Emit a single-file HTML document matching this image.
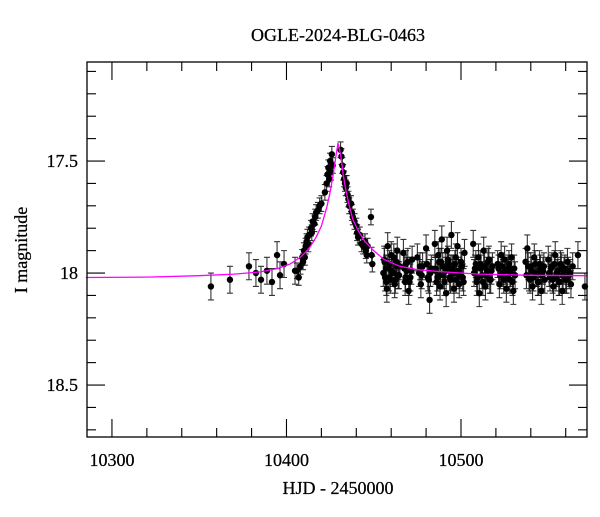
<!DOCTYPE html>
<html><head><meta charset="utf-8"><style>
body{margin:0;background:#fff}
svg text{font-family:"Liberation Serif",serif;fill:#000;stroke:#000;stroke-width:0.25}
</style></head><body>
<svg id="chart" width="600" height="512" viewBox="0 0 600 512" xmlns="http://www.w3.org/2000/svg">
<rect width="600" height="512" fill="#fff"/>
<text x="338" y="41" font-size="18" text-anchor="middle">OGLE-2024-BLG-0463</text>
<text x="338" y="494" font-size="18" text-anchor="middle">HJD - 2450000</text>
<text transform="translate(27,250) rotate(-90)" font-size="18" text-anchor="middle">I magnitude</text>
<g id="ticks"></g>
<g id="errs"></g>
<g id="pts"></g>
<path id="model" fill="none" stroke="#ff00ff" stroke-width="1.3"/>
<rect x="87" y="62" width="500" height="375" fill="none" stroke="#000" stroke-width="1.3"/>
</svg>
<script>
const xTicks=[10300,10400,10500];
const yTicks=[17.5,18,18.5];
const modelT=[10285,10320,10350,10370,10385,10395,10402,10408,10413,10417,10420,10423,10425,10427,10428.5,10429.5,10431,10432.5,10434,10436,10438,10441,10445,10450,10456,10465,10475,10490,10510,10540,10572];
const modelM=[18.02,18.018,18.012,18.005,17.995,17.98,17.96,17.93,17.89,17.84,17.79,17.71,17.64,17.55,17.47,17.42,17.47,17.56,17.63,17.70,17.76,17.81,17.86,17.90,17.94,17.97,17.985,17.995,18.005,18.01,18.012];
const obsT=[10356.7,10367.6,10378.5,10382.5,10385.4,10388.8,10391.7,10394.6,10396.3,10398.6,10404.9,
10406,10407,10408,10409,10409.5,10410,10410.5,10411,10411.5,10412,10412.5,10413,10414,10414.5,10415,10416,10416.5,10417,10418,10419,10420,10422,10423,10423.5,10424,10424.5,10425,10425.5,10426,10426.5,
10431,10431.5,10432,10432.5,10433,10433.5,10434,10434.5,10435,10435.5,10436,10437,10437.5,10438,10439,10440,10440.5,10441,10442,10443,10444,10445,10445.5,10446,10446.5,10448.4,10448.8,10449.2,
10456,10456.5,10457,10457.5,10458,10459,10459.5,10460,10461,10462,10463,10463.5,10464,10465,
10467,10468,10468.5,10469,10470,10471,10472,10475,10476,10477,10478,10480,10481,10482,10483,
10485,10485.5,10486,10487,10488,10488.5,10489,10490,10491,10491.5,10492,10493,10494,10494.5,10495,10496,10497,10497.5,10498,10499,10500,10501,10502,
10507,10508,10509,10510,10510.5,10511,10512,10513,10514,10515,10516,10517,10518,
10521,10522,10523,10524,10525,10526,10527,10528,10529,10530,10531,
10537,10538,10539,10540,10541,10542,10543,10544,10545,10546,10547,10548,
10550,10551,10552,10553,10554,10555,10556,10557,10558,10559,10560,10561,10562,10563,10564,10567,10571,
10455.5,10456.2,10457.2,10458.3,10458.8,10460.4,10461.5,10462.4,10463.2,10464.5,10467.5,10468.2,10469.5,10470.5,10471.5,10476.5,10477.5,10480.5,10481.5,10482.5,
10485.2,10486.5,10487.5,10488.2,10489.5,10490.5,10491.2,10492.5,10493.5,10494.2,10495.5,10496.5,10497.2,10498.5,10499.5,10500.5,10501.5,
10507.5,10508.5,10509.5,10511.5,10512.5,10513.5,10514.5,10515.5,10516.5,10517.5,
10521.5,10522.5,10523.5,10524.5,10525.5,10526.5,10527.5,10528.5,10529.5,10530.5,
10537.5,10538.5,10539.5,10540.5,10541.5,10542.5,10543.5,10544.5,10545.5,10546.5,10547.5,
10550.5,10551.5,10552.5,10553.5,10554.5,10555.5,10556.5,10557.5,10558.5,10559.5,10560.5,10561.5,10562.5];
const obsM=[18.06,18.03,17.97,18.00,18.03,17.99,18.04,17.92,18.01,17.96,17.99,
17.99,18.02,17.97,17.93,17.95,17.90,17.93,17.88,17.86,17.84,17.87,17.83,17.80,17.82,17.77,17.78,17.75,17.73,17.72,17.70,17.69,17.64,17.60,17.56,17.53,17.58,17.50,17.55,17.47,17.52,
17.45,17.48,17.52,17.55,17.58,17.60,17.62,17.60,17.65,17.67,17.70,17.69,17.73,17.75,17.77,17.79,17.82,17.84,17.83,17.87,17.88,17.86,17.90,17.92,17.88,17.75,17.92,17.96,
17.94,18.02,17.98,18.07,17.88,17.96,18.03,17.92,18.00,18.05,17.95,17.90,18.01,17.97,
17.91,18.04,17.96,17.99,18.08,18.02,17.94,17.93,18.00,18.05,17.97,17.89,18.02,18.12,17.98,
17.87,17.99,18.04,17.92,18.06,17.95,17.85,18.01,17.97,18.09,17.90,17.96,18.03,17.83,17.98,18.07,17.93,18.00,17.88,18.05,17.95,18.02,17.91,
17.87,17.98,18.04,17.93,18.09,17.96,18.01,17.90,18.06,17.99,17.94,18.03,17.97,
17.96,18.05,17.92,18.00,17.94,18.07,17.98,18.03,17.93,18.08,18.01,
17.95,17.89,18.02,17.97,18.06,17.93,18.00,18.04,17.96,18.08,17.99,18.03,
17.94,18.02,17.97,18.06,17.92,18.00,18.04,17.96,18.08,17.99,18.03,17.95,18.01,18.05,17.97,17.92,18.06,
18.00,17.95,18.04,17.98,18.02,17.99,17.93,18.03,17.97,18.01,17.98,18.02,17.95,18.04,17.99,17.97,18.01,17.96,18.03,18.00,
17.98,18.02,17.95,18.01,17.97,18.04,17.99,17.94,18.02,17.98,18.00,17.96,18.03,17.99,18.01,17.97,18.04,
18.00,17.96,18.02,17.98,18.04,17.97,18.01,17.95,18.03,17.99,
17.98,18.01,17.97,18.03,17.99,18.02,17.96,18.00,18.04,17.98,
18.01,17.97,18.03,17.99,18.02,17.96,18.00,18.04,17.98,18.01,17.97,
18.00,17.98,18.03,17.96,18.02,17.99,18.04,17.97,18.01,17.98,18.03,17.99,18.00];
const obsE=obsT.map((t,i)=>t<10405?0.06:(t<10452?0.035:0.06));

const X0=87,X1=587,Y0=62,Y1=437,T0=10285.7,T1=10572.2,M0=17.058,M1=18.732;
const xs=t=>X0+(t-T0)/(T1-T0)*(X1-X0);
const ys=m=>Y0+(m-M0)/(M1-M0)*(Y1-Y0);
const NS='http://www.w3.org/2000/svg';
function mk(tag,attrs,parent){const e=document.createElementNS(NS,tag);for(const k in attrs)e.setAttribute(k,attrs[k]);parent.appendChild(e);return e;}
const tg=document.getElementById('ticks');
for(let t=10300;t<=10572;t+=20){
  const major=xTicks.includes(t),L=major?18:9,x=xs(t);
  let l=mk('line',{x1:x,x2:x,y1:Y1,y2:Y1-L,stroke:'#000','stroke-width':1.1},tg);
  
  
  l=mk('line',{x1:x,x2:x,y1:Y0,y2:Y0+L,stroke:'#000','stroke-width':1.1},tg);
  
  
}
xTicks.forEach(t=>{const e=mk('text',{x:xs(t),y:466,'font-size':18,'text-anchor':'middle'},tg);e.textContent=t;
  
  });
for(let k=171;k<=187;k++){
  const m=k/10,major=yTicks.some(v=>Math.abs(v-m)<1e-6),L=major?18:9,y=ys(m);
  if(y<Y0+1||y>Y1-1)continue;
  let l=mk('line',{x1:X0,x2:X0+L,y1:y,y2:y,stroke:'#000','stroke-width':1.1},tg);
  
  
  l=mk('line',{x1:X1,x2:X1-L,y1:y,y2:y,stroke:'#000','stroke-width':1.1},tg);
  
  
}
yTicks.forEach(v=>{const e=mk('text',{x:78,y:ys(v)+6,'font-size':18,'text-anchor':'end'},tg);e.textContent=String(v);
  
  });
const eg=document.getElementById('errs'),pg=document.getElementById('pts');
obsT.forEach((t,i)=>{
  const x=xs(t),y=ys(obsM[i]),ya=ys(obsM[i]-obsE[i]),yb=ys(obsM[i]+obsE[i]);
  if(x>X1)return;
  const g=mk('path',{d:`M${x},${ya}V${yb}M${x-3},${ya}h6M${x-3},${yb}h6`,stroke:'#111','stroke-width':1.1,fill:'none','stroke-opacity':0.85},eg);
  
  
  const c=mk('circle',{cx:x,cy:y,r:3.2,fill:'#000'},pg);
  
  
});
document.getElementById('model').setAttribute('d',modelT.map((t,i)=>(i?'L':'M')+xs(t).toFixed(1)+','+ys(modelM[i]).toFixed(1)).join(''));
</script>
</body></html>
